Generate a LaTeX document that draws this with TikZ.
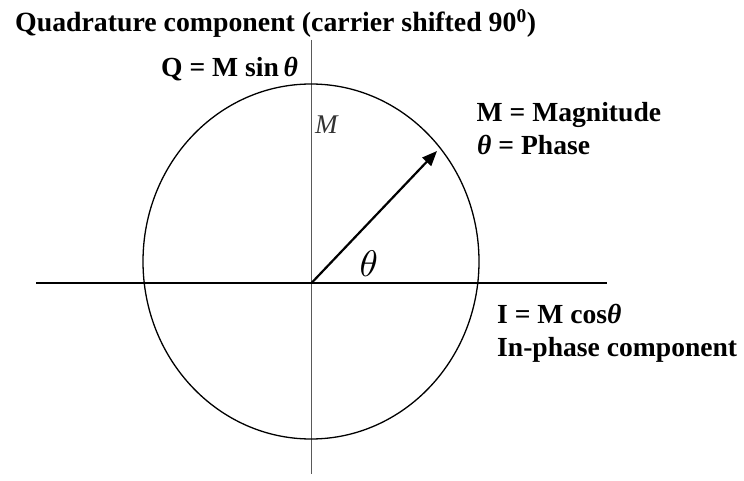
\documentclass[tikz,border=0pt]{standalone}
\usepackage{fontspec}
\setmainfont{Liberation Serif}
\usetikzlibrary{arrows.meta,shapes.geometric}
\newcommand{\bth}{{\bfseries\itshape θ}}
\begin{document}
\begin{tikzpicture}[x=1pt,y=-1pt,
  lbl/.style={anchor=base west,inner sep=0pt,font=\fontsize{27.6}{32}\selectfont\bfseries},
  axisx/.style={line width=1.8pt,black},
  axisy/.style={line width=1.2pt,black!65},
  vec/.style={line width=2.2pt,-{Triangle[length=15pt,width=12pt]}}]
\useasboundingbox (0,0) rectangle (744,481);
% axes
\coordinate (xl) at (36,283);
\coordinate (xr) at (607,283);
\coordinate (yt) at (311.5,40);
\coordinate (yb) at (311.5,474);
\coordinate (O) at (311.5,283);
\coordinate (tip) at (437,151);
\draw[axisy] (yt) -- (yb);
\draw[axisx] (xl) -- (xr);
% circle
\node[ellipse,draw,line width=1.3pt,inner sep=0pt,minimum width=336pt,minimum height=355pt] (circ) at (311,261.5) {};
% vector
\draw[vec] (O) -- (tip);
% labels
\node[lbl,font=\fontsize{27.8}{32}\selectfont\bfseries] (title) at (15,31.5) {Quadrature component (carrier shifted 90\textsuperscript{0})};
\node[lbl] (qlab) at (161,77) {Q = M sin\,\bth};
\node[lbl] (mlab) at (476.5,121.5) {M = Magnitude};
\node[lbl] (plab) at (477,155) {\bth\ = Phase};
\node[lbl] (ilab) at (497,323) {I = M cos\bth};
\node[lbl] (iplab) at (497,356.5) {In-phase component};
\node[anchor=base west,inner sep=0pt,font=\fontsize{27}{30}\selectfont\itshape,text=black!80] (mag) at (315,134) {M};
\node[anchor=base west,inner sep=0pt,scale=3.7] (th) at (359,276) {$\theta$};
\end{tikzpicture}
\end{document}
